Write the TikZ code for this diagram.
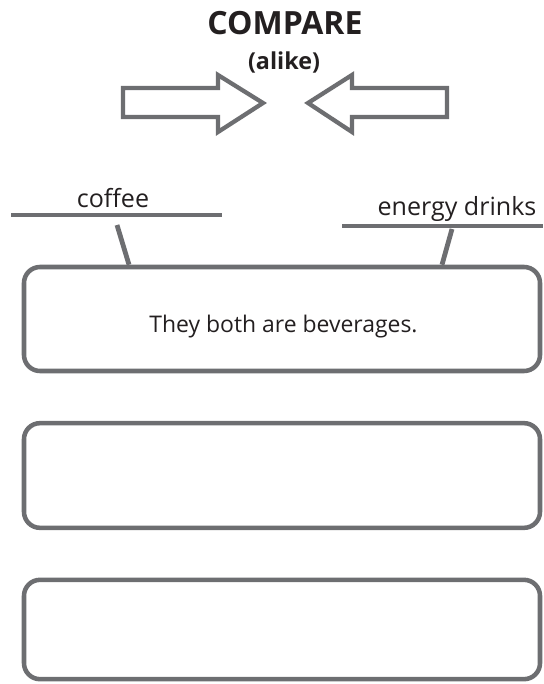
\documentclass[tikz,border=0pt]{standalone}
\usepackage{fontspec}
\setmainfont{Open Sans}
\begin{document}
\begin{tikzpicture}[x=0.75pt,y=-0.75pt,
  ink/.style={draw=linegray, line width=3.6pt},
  bigarrow/.style={draw=linegray, line width=3.2pt, line join=miter, fill=white},
  answerbox/.style={draw=linegray, line width=3.4pt, rounded corners=12pt,
    minimum width=387pt, inner sep=0pt},
  word/.style={text=textdark, inner sep=0pt, font=\fontsize{18.8}{20}\selectfont},
]
\definecolor{linegray}{HTML}{6D6E71}
\definecolor{textdark}{HTML}{231F20}
\useasboundingbox (0,0) rectangle (543,684);

% heading
\node[text=textdark, anchor=base, font=\bfseries\fontsize{24}{26}\selectfont] (title) at (285,35) {COMPARE};
\node[text=textdark, anchor=base, font=\bfseries\fontsize{17.5}{19}\selectfont] (alike) at (284,70) {(alike)};

% the two arrows pointing at each other
\draw[bigarrow] (123,88) -- (218,88) -- (218,75) -- (263,103) -- (218,132) -- (218,117) -- (123,117) -- cycle;
\draw[bigarrow] (447,88) -- (352,88) -- (352,75) -- (308,103) -- (352,132) -- (352,117) -- (447,117) -- cycle;

% answer boxes
\node[answerbox, minimum height=78pt] (box1) at (282,319) {};
\node[answerbox, minimum height=78.5pt] (box2) at (282,475.5) {};
\node[answerbox, minimum height=74.5pt] (box3) at (282,629.5) {};
\node[word, anchor=base, font=\fontsize{17.2}{19}\selectfont] (fact1) at (283.5,332) {They both are beverages.};

% topic labels on their lines
\node[word, anchor=base] (topicA) at (113,207) {coffee};
\node[word, anchor=base] (topicB) at (457,215) {energy drinks};
\coordinate (lineAl) at (11,215);
\coordinate (lineAr) at (222,215);
\coordinate (lineBl) at (342,226);
\coordinate (lineBr) at (543,226);
\draw[ink] (lineAl) -- (lineAr);
\draw[ink] (lineBl) -- (lineBr);

% ticks tying the labels to the first box
\coordinate (tickA) at (117,225);
\coordinate (tickB) at (452,229);
\draw[ink] (tickA) -- (box1.north west -| 129,0);
\draw[ink] (tickB) -- (box1.north west -| 442,0);
\end{tikzpicture}
\end{document}
